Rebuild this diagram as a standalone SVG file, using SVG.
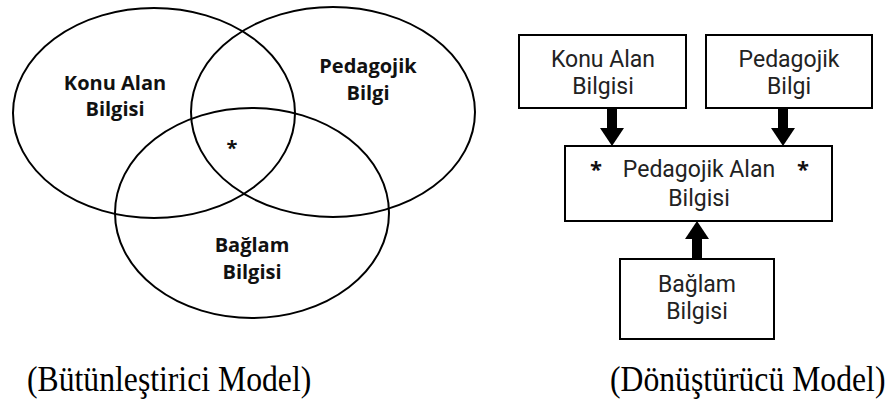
<svg xmlns="http://www.w3.org/2000/svg" width="891" height="404" viewBox="0 0 891 404">
  <style>
    .ring { fill: none; stroke: #000; stroke-width: 2; }
    .box { fill: #fff; stroke: #000; stroke-width: 2; }
    .vlab { font-family: "Open Sans", "Liberation Sans", sans-serif; font-weight: bold; font-size: 20px; fill: #111; text-anchor: middle; }
    .blab { font-family: Roboto, "Liberation Sans", sans-serif; font-size: 23px; fill: #222; text-anchor: middle; }
    .star { font-family: "Open Sans", "Liberation Sans", sans-serif; font-weight: bold; font-size: 22px; fill: #111; text-anchor: middle; }
    .cap { font-family: "Liberation Serif", "Times New Roman", serif; font-size: 31.7px; fill: #000; }
    .arrow { fill: #000; stroke: none; }
  </style>

  <!-- Integrative model: three overlapping knowledge domains -->
  <g id="venn">
    <g id="venn-content">
      <ellipse class="ring" cx="154" cy="113" rx="141" ry="105"/>
      <text class="vlab" x="115" y="90">Konu Alan</text>
      <text class="vlab" x="115" y="116">Bilgisi</text>
    </g>
    <g id="venn-pedagogy">
      <ellipse class="ring" cx="333" cy="112" rx="142" ry="105"/>
      <text class="vlab" x="368" y="73">Pedagojik</text>
      <text class="vlab" x="368" y="100">Bilgi</text>
    </g>
    <g id="venn-context">
      <ellipse class="ring" cx="252" cy="213" rx="137" ry="105"/>
      <text class="vlab" x="252" y="252">Bağlam</text>
      <text class="vlab" x="252" y="279">Bilgisi</text>
    </g>
    <g id="venn-center">
      <text class="vlab" x="232" y="155">*</text>
    </g>
  </g>

  <!-- Transformative model: boxes feeding the central node -->
  <g id="connectors">
    <rect class="arrow" x="607" y="107" width="10" height="22"/>
    <polygon class="arrow" points="600,128 624,128 612,146"/>
    <rect class="arrow" x="778" y="107" width="10" height="22"/>
    <polygon class="arrow" points="771,128 795,128 783,146"/>
    <rect class="arrow" x="692" y="238" width="10" height="21"/>
    <polygon class="arrow" points="685,239 709,239 697,221"/>
  </g>

  <g id="box-content">
    <rect class="box" x="519" y="35" width="167" height="73"/>
    <text class="blab" x="603" y="67">Konu Alan</text>
    <text class="blab" x="603" y="94">Bilgisi</text>
  </g>
  <g id="box-pedagogy">
    <rect class="box" x="706" y="35" width="166" height="73"/>
    <text class="blab" x="789" y="67">Pedagojik</text>
    <text class="blab" x="789" y="94">Bilgi</text>
  </g>
  <g id="box-pck">
    <rect class="box" x="565" y="146" width="267" height="75"/>
    <text class="blab" y="177"><tspan class="star" x="596">*</tspan><tspan x="699">Pedagojik Alan</tspan><tspan class="star" x="803">*</tspan></text>
    <text class="blab" x="699" y="206">Bilgisi</text>
  </g>
  <g id="box-context">
    <rect class="box" x="620" y="259" width="154" height="80"/>
    <text class="blab" x="697" y="292">Bağlam</text>
    <text class="blab" x="697" y="319">Bilgisi</text>
  </g>

  <!-- Captions (slightly tall type) -->
  <text class="cap" transform="translate(27,391) scale(1,1.12)">(Bütünleştirici Model)</text>
  <text class="cap" transform="translate(610,391) scale(1,1.12)">(Dönüştürücü Model)</text>
</svg>
